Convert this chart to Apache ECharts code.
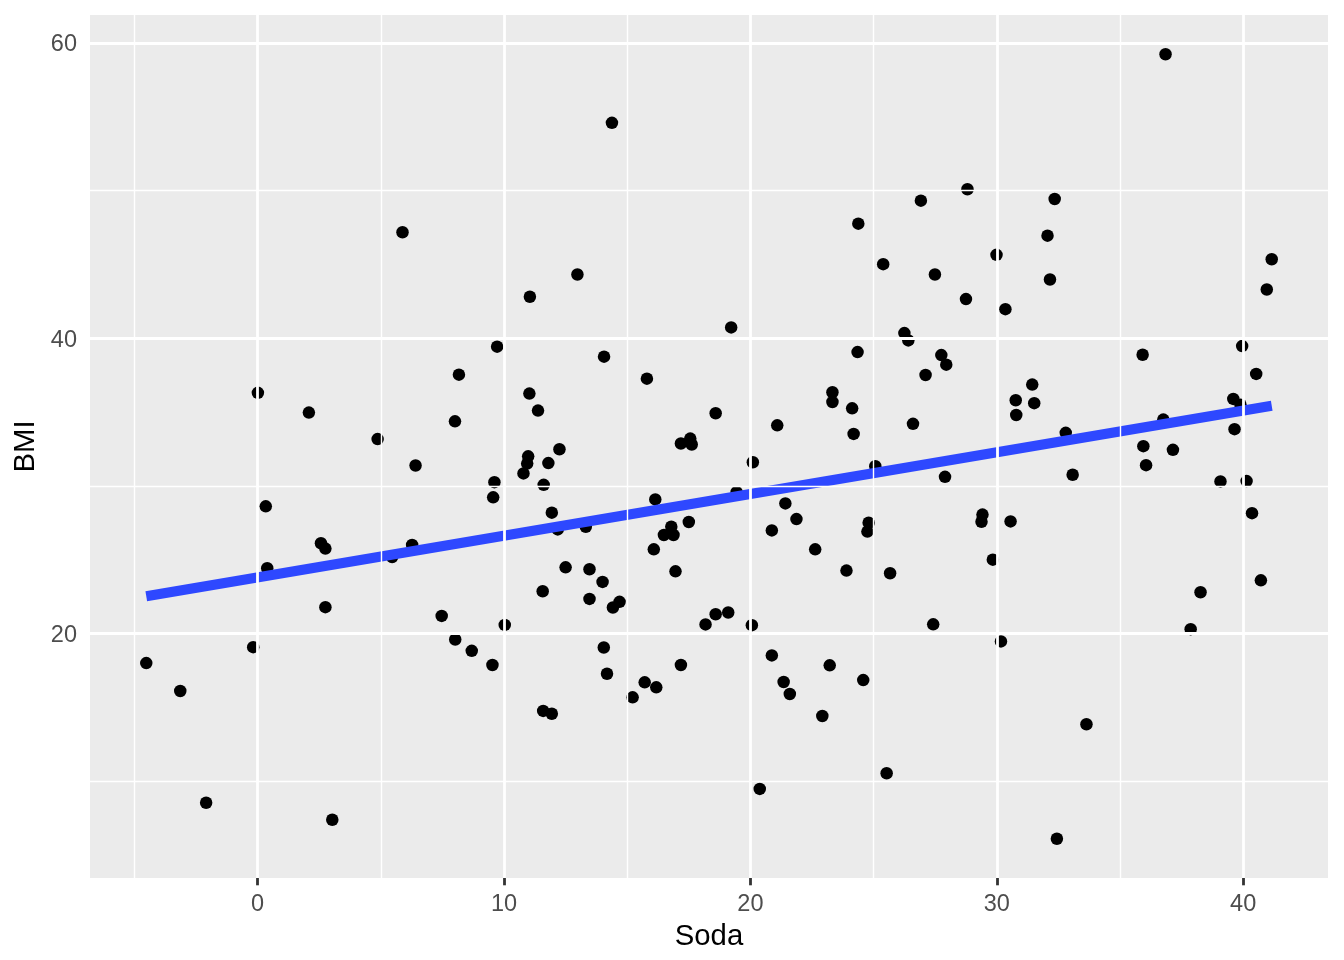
<!DOCTYPE html>
<html><head><meta charset="utf-8">
<script src="https://cdn.jsdelivr.net/npm/echarts@6/dist/echarts.min.js"></script>
<style>html,body{margin:0;padding:0;background:#fff}#c{width:1344px;height:960px}</style>
</head><body><div id="c"></div>
<script>
const soda = [-4.52,-3.14,-2.09,-0.18,0.01,0.33,0.39,2.08,2.57,2.75,2.75,3.03,4.87,5.46,5.88,6.27,6.41,7.47,8.01,8.02,8.17,8.69,9.53,9.56,9.61,9.72,10.03,10.79,10.94,10.98,11.03,11.05,11.38,11.57,11.59,11.61,11.8,11.94,11.94,12.18,12.25,12.5,12.98,13.32,13.47,13.47,14.0,14.05,14.06,14.18,14.38,14.42,14.69,15.22,15.71,15.8,16.08,16.14,16.18,16.49,16.79,16.88,16.96,17.18,17.18,17.5,17.56,17.62,18.18,18.59,18.59,19.1,19.22,19.44,20.06,20.1,20.38,20.87,20.87,21.09,21.35,21.42,21.6,21.87,22.63,22.92,23.22,23.33,23.33,23.9,24.13,24.19,24.35,24.38,24.58,24.75,24.8,25.07,25.39,25.53,25.67,26.25,26.41,26.6,26.92,27.11,27.42,27.49,27.75,27.9,27.95,28.75,28.81,29.38,29.42,29.84,29.99,30.17,30.35,30.56,30.77,30.79,31.44,31.52,32.06,32.16,32.35,32.44,32.8,33.08,33.64,35.92,35.95,36.06,36.76,36.85,37.15,37.87,38.27,39.08,39.6,39.65,39.89,39.96,40.14,40.36,40.53,40.72,40.96,41.16];
const bmi = [17.99,16.1,8.53,19.07,36.3,28.61,24.42,34.96,26.11,25.75,21.78,7.38,33.17,25.18,47.18,25.99,31.38,21.19,34.37,19.59,37.53,18.82,17.86,29.22,30.25,39.43,20.58,30.84,31.51,32.0,36.25,42.81,35.1,22.86,14.75,30.07,31.54,28.18,14.56,27.05,32.48,24.48,44.32,27.23,24.35,22.34,23.49,19.05,38.75,17.27,54.59,21.76,22.14,15.67,16.69,37.26,25.7,29.08,16.35,26.67,27.23,26.67,24.21,17.86,32.87,27.55,33.2,32.8,20.61,21.3,34.92,21.42,40.73,29.57,20.56,31.6,9.47,26.98,18.51,34.1,16.71,28.81,15.9,27.75,25.7,14.41,17.84,36.34,35.68,24.26,35.25,33.52,39.06,47.76,16.84,26.9,27.5,31.33,45.02,10.53,24.08,40.35,39.85,34.2,49.32,37.51,20.62,44.32,38.86,30.61,38.21,42.65,50.09,27.57,28.05,25.0,45.65,19.46,41.97,27.59,35.8,34.8,36.86,35.6,46.95,43.98,49.43,6.09,33.59,30.75,13.85,38.88,32.69,31.4,34.49,59.24,32.44,20.29,22.79,30.3,35.89,33.84,35.5,39.47,30.32,28.15,37.58,23.6,43.3,45.35];
const xTicks = [0, 10, 20, 30, 40];
const yTicks = [20, 40, 60];
const xMinor = [-5, 5, 15, 25, 35];
const yMinor = [10, 30, 50];
const xTitle = 'Soda';
const yTitle = 'BMI';

const n = soda.length;
const mx = soda.reduce((a, b) => a + b, 0) / n;
const my = bmi.reduce((a, b) => a + b, 0) / n;
let sxy = 0, sxx = 0;
for (let i = 0; i < n; i++) { sxy += (soda[i] - mx) * (bmi[i] - my); sxx += (soda[i] - mx) ** 2; }
const slope = sxy / sxx, intercept = my - slope * mx;
const xLo = Math.min(...soda), xHi = Math.max(...soda);
const yLo = Math.min(...bmi), yHi = Math.max(...bmi);
const fitLine = [[xLo, intercept + slope * xLo], [xHi, intercept + slope * xHi]];
const xPad = (xHi - xLo) * 0.05, yPad = (yHi - yLo) * 0.05;

const FONT = 'Liberation Sans, Arial, Helvetica, sans-serif';
const gl = (key, v, w) => ({ [key]: v, lineStyle: { color: '#ffffff', width: w, type: 'solid' } });

const chart = echarts.init(document.getElementById('c'), null, { renderer: 'canvas' });
chart.setOption({
  animation: false,
  backgroundColor: '#ffffff',
  grid: { left: 90, right: 16, top: 15, bottom: 82, show: true, backgroundColor: '#EBEBEB', borderWidth: 0, containLabel: false },
  xAxis: {
    type: 'value', min: xLo - xPad, max: xHi + xPad,
    name: xTitle, nameLocation: 'middle', nameGap: 44,
    nameTextStyle: { color: '#000000', fontSize: 29.3, fontFamily: FONT },
    axisLine: { show: false },
    axisTick: { show: true, customValues: xTicks, length: 7.3, lineStyle: { color: '#333333', width: 2.8 } },
    axisLabel: { customValues: xTicks, color: '#4D4D4D', fontSize: 23.5, fontFamily: FONT, margin: 15 },
    splitLine: { show: false }
  },
  yAxis: {
    type: 'value', min: yLo - yPad, max: yHi + yPad,
    name: yTitle, nameLocation: 'middle', nameGap: 50, nameRotate: 90,
    nameTextStyle: { color: '#000000', fontSize: 29.3, fontFamily: FONT },
    axisLine: { show: false },
    axisTick: { show: true, customValues: yTicks, length: 7.3, lineStyle: { color: '#333333', width: 2.8 } },
    axisLabel: {
      customValues: yTicks, margin: 13,
      formatter: '{t|{value}}',
      rich: { t: { color: '#4D4D4D', fontSize: 23.5, fontFamily: FONT, padding: [4, 0, 0, 0] } }
    },
    splitLine: { show: false }
  },
  series: [
    {
      type: 'line', data: [], z: 1, silent: true,
      markLine: {
        silent: true, symbol: ['none', 'none'], label: { show: false }, animation: false,
        emphasis: { disabled: true },
        data: [
          ...xMinor.map(v => gl('xAxis', v, 1.4)),
          ...yMinor.map(v => gl('yAxis', v, 1.4)),
          ...xTicks.map(v => gl('xAxis', v, 2.8)),
          ...yTicks.map(v => gl('yAxis', v, 2.8))
        ]
      }
    },
    {
      type: 'scatter', z: 3, symbol: 'circle', symbolSize: 12.5,
      itemStyle: { color: '#000000', opacity: 1 },
      emphasis: { disabled: true },
      data: soda.map((x, i) => [x, bmi[i]])
    },
    {
      type: 'line', z: 4, data: fitLine, showSymbol: false, symbol: 'none',
      lineStyle: { color: '#2E48FF', width: 10, cap: 'butt' }
    }
  ]
});
</script>
</body></html>
